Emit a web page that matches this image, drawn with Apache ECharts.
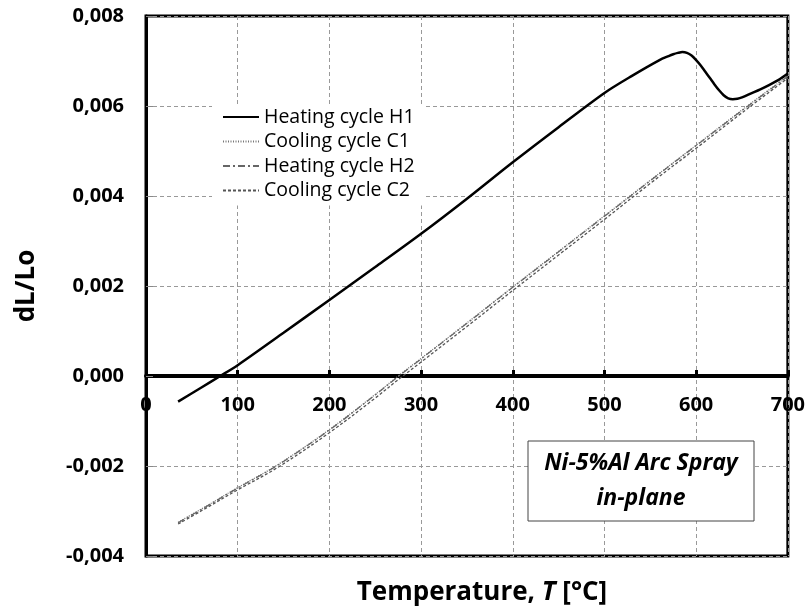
<!DOCTYPE html>
<html>
<head>
<meta charset="utf-8">
<script src="https://cdn.jsdelivr.net/npm/echarts@6/dist/echarts.min.js"></script>
<style>html,body{margin:0;padding:0;background:#fff}#c{width:808px;height:613px}</style>
</head>
<body>
<div id="c"></div>
<script>
// ---- data ----
const tempH1 = [35, 60, 81, 100, 150, 200, 250, 300, 350, 400, 450, 500, 530, 560, 570, 575, 580, 585, 590, 595, 600, 605, 610, 615, 620, 625, 630, 635, 640, 645, 650, 660, 670, 680, 690, 700];
const heatingH1 = [-0.00057, -0.00026, 0.00000, 0.00024, 0.00096, 0.00169, 0.00242, 0.00316, 0.00394, 0.00475, 0.00553, 0.00629, 0.00667, 0.00702, 0.00711, 0.00715, 0.00718, 0.00720, 0.00718, 0.00712, 0.00702, 0.00690, 0.00676, 0.00662, 0.00648, 0.00635, 0.00624, 0.00617, 0.00615, 0.00616, 0.00619, 0.00628, 0.00637, 0.00647, 0.00658, 0.00672];

const tempCyc = [35, 60, 100, 143, 200, 250, 277, 300, 350, 400, 450, 500, 550, 600, 650, 700];
const coolingC1 = [-0.00325, -0.00296, -0.00248, -0.00198, -0.00119, -0.00041, 0.00003, 0.00039, 0.00118, 0.00198, 0.00277, 0.00356, 0.00435, 0.00513, 0.00591, 0.00667];
const heatingH2 = [-0.00326, -0.00297, -0.00249, -0.00199, -0.00120, -0.00042, 0.00002, 0.00038, 0.00117, 0.00197, 0.00276, 0.00355, 0.00434, 0.00512, 0.00590, 0.00666];
const coolingC2 = [-0.00329, -0.00300, -0.00253, -0.00204, -0.00126, -0.00049, -0.00005, 0.00031, 0.00110, 0.00190, 0.00269, 0.00348, 0.00428, 0.00506, 0.00585, 0.00662];

const xTicks = {min: 0, max: 700, step: 100};
const yTicks = {min: -0.004, max: 0.008, step: 0.002};

const seriesNames = ['Heating cycle H1', 'Cooling cycle C1', 'Heating cycle H2', 'Cooling cycle C2'];
const annotation = ['Ni-5%Al Arc Spray', 'in-plane'];

function pairs(xs, ys) { return xs.map((x, i) => [x, ys[i]]); }

const FONT = 'Open Sans';
const GRID = {left: 146, right: 20, top: 16, bottom: 57};
const PLOT_H = 613 - GRID.top - GRID.bottom;
// pixel distance from bottom of the plot to the y = 0 line (axis crosses at zero)
const zeroOffset = -PLOT_H * (0 - yTicks.min) / (yTicks.max - yTicks.min);

const chart = echarts.init(document.getElementById('c'), null, {renderer: 'canvas'});
chart.setOption({
  animation: false,
  backgroundColor: '#fff',
  grid: Object.assign({show: true, borderColor: '#000', borderWidth: 3, backgroundColor: '#fff'}, GRID),
  xAxis: {
    type: 'value', min: xTicks.min, max: xTicks.max, interval: xTicks.step,
    position: 'bottom', offset: zeroOffset,
    axisLine: {show: true, onZero: false, lineStyle: {color: '#000', width: 4}},
    axisTick: {show: true, inside: true, length: 6, lineStyle: {color: '#000', width: 3}},
    axisLabel: {color: '#000', fontFamily: FONT, fontWeight: 'bold', fontSize: 20, margin: 19},
    splitLine: {show: true, lineStyle: {color: '#999', type: [4, 3], width: 1}}
  },
  yAxis: {
    type: 'value', min: yTicks.min, max: yTicks.max, interval: yTicks.step,
    name: 'dL/Lo', nameLocation: 'middle', nameGap: 106, nameRotate: 90,
    nameTextStyle: {color: '#000', fontFamily: FONT, fontWeight: 'bold', fontSize: 26},
    axisLine: {show: true, onZero: false, lineStyle: {color: '#000', width: 3}},
    axisTick: {show: true, inside: true, length: 7, lineStyle: {color: '#888', width: 1}},
    axisLabel: {color: '#000', fontFamily: FONT, fontWeight: 'bold', fontSize: 20, margin: 22,
      formatter: v => v.toFixed(3).replace('.', ',')},
    splitLine: {show: true, lineStyle: {color: '#999', type: [4, 3], width: 1}}
  },
  legend: {
    orient: 'vertical', left: 212, top: 104, padding: [3, 10, 5, 10],
    backgroundColor: '#fff', itemWidth: 36, itemHeight: 14, itemGap: 4.5,
    itemStyle: {color: 'rgba(0,0,0,0)', borderWidth: 0, opacity: 0},
    textStyle: {color: '#000', fontFamily: FONT, fontSize: 19.5, lineHeight: 20},
    data: seriesNames
  },
  series: [
    {name: seriesNames[0], type: 'line', data: pairs(tempH1, heatingH1), showSymbol: false, symbol: 'none', smooth: 0.3,
     lineStyle: {color: '#000', width: 2.5}, itemStyle: {color: '#000'}, z: 5},
    {name: seriesNames[1], type: 'line', data: pairs(tempCyc, coolingC1), showSymbol: false, symbol: 'none', smooth: 0.35,
     lineStyle: {color: '#777', width: 1.3, type: [1, 1.5]}, itemStyle: {color: '#777'}},
    {name: seriesNames[2], type: 'line', data: pairs(tempCyc, heatingH2), showSymbol: false, symbol: 'none', smooth: 0.35,
     lineStyle: {color: '#666', width: 1.3, type: [7, 3, 2, 3]}, itemStyle: {color: '#666'}},
    {name: seriesNames[3], type: 'line', data: pairs(tempCyc, coolingC2), showSymbol: false, symbol: 'none', smooth: 0.35,
     lineStyle: {color: '#555', width: 1.3, type: [3, 2]}, itemStyle: {color: '#555'}}
  ],
  graphic: [
    {type: 'rect', shape: {x: 528, y: 441, width: 226, height: 80}, style: {fill: '#fff', stroke: '#444', lineWidth: 1}, z: 100},
    {type: 'text', x: 641, y: 481, z: 101, style: {text: annotation.join('\n'), fill: '#000', font: 'italic bold 23px "Open Sans"', align: 'center', verticalAlign: 'middle', lineHeight: 35}},
    {type: 'text', x: 482, y: 593, z: 101, style: {
      text: '{a|Temperature, }{b|T}{a| [°C]}', align: 'center', verticalAlign: 'middle', fill: '#000',
      rich: {a: {font: 'bold 26px "Open Sans"', fill: '#000'}, b: {font: 'italic bold 26px "Open Sans"', fill: '#000'}}}}
  ]
});
</script>
</body>
</html>
